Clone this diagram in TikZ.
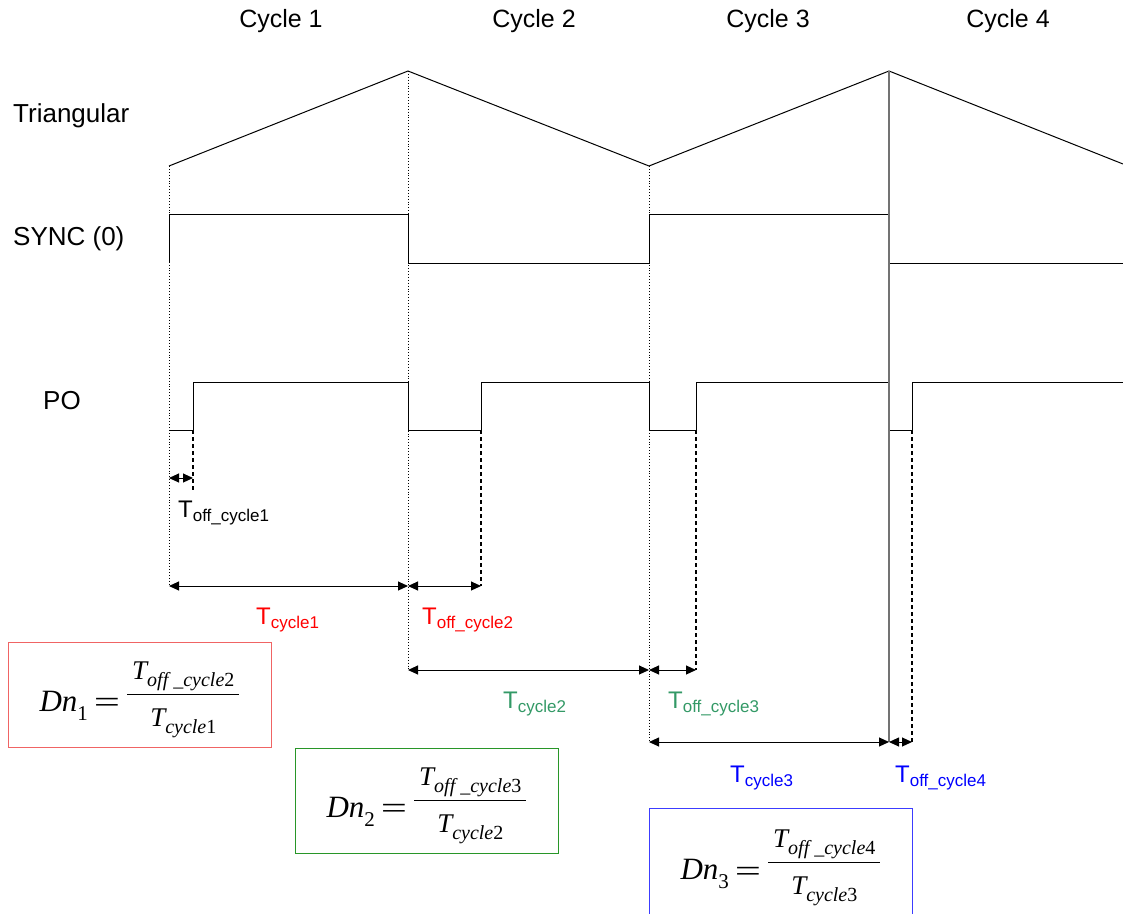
\documentclass[tikz,border=0pt]{standalone}
\usepackage{graphicx}
\usepackage{fontspec}
\setmainfont{Liberation Sans}
\newfontfamily\timesfont{Liberation Serif}
\usetikzlibrary{arrows.meta}

\definecolor{tred}{RGB}{255,0,0}
\definecolor{tgreen}{RGB}{51,153,102}
\definecolor{tblue}{RGB}{0,0,255}
\definecolor{boxred}{RGB}{240,100,100}
\definecolor{boxgreen}{RGB}{40,150,40}
\definecolor{boxblue}{RGB}{60,60,255}

% T with a lowered subscript, as in the timing labels
\newcommand{\tsub}[1]{T\raisebox{-4pt}{\fontsize{17}{17}\selectfont #1}}
% parts of the duty formulas
\newcommand{\fpart}[2]{\hskip5pt{\fontsize{27}{27}\selectfont\itshape T\raisebox{-7pt}{\fontsize{20}{20}\selectfont #1{\upshape #2}}}\hskip5pt}
\newcommand{\dnlab}[1]{{\itshape Dn\raisebox{-9pt}{\upshape\fontsize{21}{21}\selectfont #1}}}
\newcommand{\myfrac}[2]{\raisebox{-15pt}{\vbox{\halign{\hfil##\hfil\cr
  \raisebox{0pt}[28.35pt][12pt]{#1}\cr
  \noalign{\kern2.35pt\hrule height 1.3pt\kern13.35pt}
  \raisebox{0pt}[18pt][12pt]{#2}\cr}}}}
\newcommand{\dnform}[3]{\dnlab{#1}\hskip6pt\raisebox{-1.5pt}{\scalebox{1.5}[1]{=}}\hskip7pt\myfrac{\fpart{off \_cycle}{#2}}{\fpart{cycle}{#3}}}

\begin{document}
\begin{tikzpicture}[x=1pt, y=-1pt,
  sig/.style={line width=1pt, black},
  guide/.style={dotted, line width=0.9pt},
  cut/.style={dash pattern=on 4pt off 3pt, line width=1.2pt},
  edgefour/.style={line width=1.2pt, black!55},
  dim/.style={{Triangle[length=10pt,width=9pt]}-{Triangle[length=10pt,width=9pt]}, line width=1pt},
  toplab/.style={anchor=base, font=\fontsize{25}{30}\selectfont, inner sep=0pt},
  sidelab/.style={anchor=base west, font=\fontsize{26}{30}\selectfont, inner sep=0pt},
  tlab/.style={anchor=base west, font=\fontsize{24}{28}\selectfont, inner sep=0pt},
  eqbox/.style={draw, line width=1pt, minimum width=263pt, minimum height=105pt, inner sep=0pt,
    font=\timesfont\fontsize{31}{36}\selectfont}
]
\useasboundingbox (0,0) rectangle (1123,913);

% headings
\node[toplab] (cyc1) at (281,27) {Cycle 1};
\node[toplab] (cyc2) at (534,27) {Cycle 2};
\node[toplab] (cyc3) at (768,27) {Cycle 3};
\node[toplab] (cyc4) at (1008,27) {Cycle 4};
\node[sidelab] (tri) at (13,122) {Triangular};
\node[sidelab] (sync) at (13,245) {SYNC (0)};
\node[sidelab] (po) at (43,409) {PO};

% signals
\draw[sig] (169,166) -- (408,71) -- (649,166) -- (889,71) -- (1123,164);
\draw[sig] (169,263) -- (169,214) -- (408,214) -- (408,263) -- (649,263) -- (649,214)
  -- (889,214) -- (889,263) -- (1123,263);
\draw[sig] (169,430) -- (193,430) -- (193,382) -- (408,382) -- (408,430) -- (481,430)
  -- (481,382) -- (649,382) -- (649,430) -- (696,430) -- (696,382) -- (889,382)
  -- (889,430) -- (912,430) -- (912,382) -- (1123,382);

% arrow ends
\coordinate (o1l) at (169,478);
\coordinate (o1r) at (193,478);
\coordinate (c1l) at (169,586);
\coordinate (c1r) at (408,586);
\coordinate (o2r) at (481,586);
\coordinate (c2l) at (408,670);
\coordinate (c2r) at (649,670);
\coordinate (o3r) at (696,670);
\coordinate (c3l) at (649,742);
\coordinate (c3r) at (889,742);
\coordinate (o4r) at (912,742);

% guides
\draw[guide] (169,166) -- (c1l);
\draw[guide] (408,71) -- (c2l);
\draw[guide] (649,166) -- (c3l);
\draw[edgefour] (889,71) -- (c3r);
\draw[cut] (193,430) -- (193,490);
\draw[cut] (481,430) -- (o2r);
\draw[cut] (696,430) -- (o3r);
\draw[cut] (912,430) -- (o4r);

% dimensions
\draw[dim] (o1l) -- (o1r);
\draw[dim] (c1l) -- (c1r);
\draw[dim] (c1r) -- (o2r);
\draw[dim] (c2l) -- (c2r);
\draw[dim] (c2r) -- (o3r);
\draw[dim] (c3l) -- (c3r);
\draw[dim] (c3r) -- (o4r);

\node[tlab] (toff1) at (178,517) {\tsub{off\_cycle1}};
\node[tlab, text=tred] (tc1) at (256,624) {\tsub{cycle1}};
\node[tlab, text=tred] (toff2) at (422,624) {\tsub{off\_cycle2}};
\node[tlab, text=tgreen] (tc2) at (503,708) {\tsub{cycle2}};
\node[tlab, text=tgreen] (toff3) at (668,708) {\tsub{off\_cycle3}};
\node[tlab, text=tblue] (tc3) at (730,782) {\tsub{cycle3}};
\node[tlab, text=tblue] (toff4) at (895,782) {\tsub{off\_cycle4}};

% duty formulas
\node[eqbox, draw=boxred] (dn1) at (139.5,694.5) {\dnform{1}{2}{1}};
\node[eqbox, draw=boxgreen] (dn2) at (426.5,800.5) {\dnform{2}{3}{2}};
\node[eqbox, draw=boxblue, minimum height=110pt] (dn3) at (780.5,863) {\dnform{3}{4}{3}};
\end{tikzpicture}
\end{document}
